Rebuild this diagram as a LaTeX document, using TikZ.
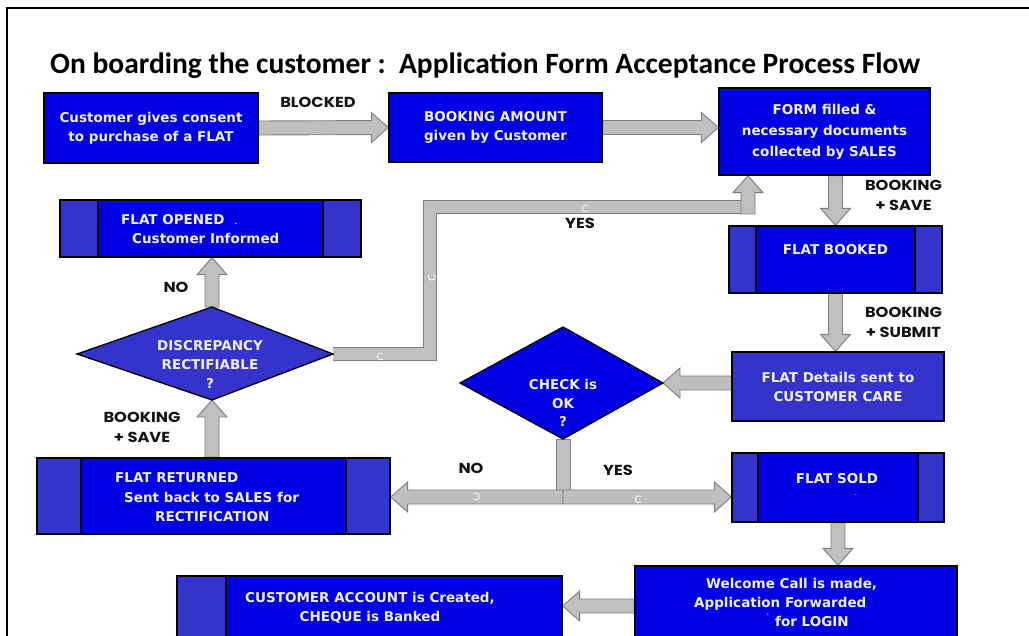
\documentclass[tikz,border=0pt]{standalone}
\usepackage{fontspec}
\setmainfont{DejaVu Sans}
\newfontfamily\boxfont{DejaVu Sans}
\newfontfamily\lblfont{Poppins}[FakeStretch=1.12]
\newfontfamily\titlefont{Carlito}
\usetikzlibrary{calc,backgrounds}

\definecolor{boxblue}{RGB}{0,0,228}
\definecolor{sideblue}{RGB}{52,52,204}
\definecolor{arrowfill}{RGB}{191,191,191}
\definecolor{arrowedge}{RGB}{125,125,125}
\definecolor{boxtext}{RGB}{240,240,255}
\definecolor{labelink}{RGB}{20,20,20}

\newcommand\boxtextfont{\boxfont\bfseries\fontsize{13.5}{19}\selectfont}
\newcommand\shaftw{7pt}
\newcommand\headw{15pt}
\newcommand\headl{17pt}

% straight block arrow from #1 to #2 (gray body, darker outline)
\newcommand\blockarrow[2]{%
  \filldraw[blockarrow] let \p1=#1, \p2=#2,
      \n1={atan2(\y2-\y1,\x2-\x1)}, \n2={veclen(\x2-\x1,\y2-\y1)} in
    [shift={(\p1)}, rotate=\n1]
    (0pt,\shaftw) -- ({\n2*1pt-\headl},\shaftw) -- ({\n2*1pt-\headl},\headw) -- ({\n2*1pt},0pt)
    -- ({\n2*1pt-\headl},-\headw) -- ({\n2*1pt-\headl},-\shaftw) -- (0pt,-\shaftw) -- cycle;}
% straight block bar without a head
\newcommand\blockbar[2]{%
  \filldraw[blockarrow] let \p1=#1, \p2=#2,
      \n1={atan2(\y2-\y1,\x2-\x1)}, \n2={veclen(\x2-\x1,\y2-\y1)} in
    [shift={(\p1)}, rotate=\n1]
    (0pt,\shaftw) -- ({\n2*1pt},\shaftw) -- ({\n2*1pt},-\shaftw) -- (0pt,-\shaftw) -- cycle;}

\tikzset{
  procbox/.style={draw=black, line width=1.3pt, fill=boxblue, inner sep=0pt,
    align=center, text=boxtext, font=\boxtextfont},
  lpanel/.style={path picture={
    \fill[sideblue] (path picture bounding box.south west) rectangle ([xshift=#1]path picture bounding box.north west);
    \draw[black, line width=1.3pt] ([xshift=#1]path picture bounding box.south west) -- ([xshift=#1]path picture bounding box.north west);}},
  panels/.style={path picture={
    \fill[sideblue] (path picture bounding box.south west) rectangle ([xshift=#1]path picture bounding box.north west);
    \fill[sideblue] (path picture bounding box.south east) rectangle ([xshift=-#1]path picture bounding box.north east);
    \draw[black, line width=1.3pt] ([xshift=#1]path picture bounding box.south west) -- ([xshift=#1]path picture bounding box.north west)
      ([xshift=-#1]path picture bounding box.south east) -- ([xshift=-#1]path picture bounding box.north east);}},
  diam/.style={draw=black, line width=1.3pt},
  boxtxt/.style={text=boxtext, font=\boxtextfont, inner sep=0pt},
  lbl/.style={text=labelink, font=\lblfont\bfseries\fontsize{14.5}{20}\selectfont, inner sep=0pt, align=center},
  cmark/.style={text=white, font=\boxfont\fontsize{10}{10}\selectfont, inner sep=0pt},
  blockarrow/.style={fill=arrowfill, draw=arrowedge, line width=0.9pt, line join=miter},
}

\begin{document}
\begin{tikzpicture}[x=1pt,y=-1pt]
\useasboundingbox (0,0) rectangle (1029,636);

% title
\node[anchor=base west, inner sep=0pt, font=\titlefont\bfseries\fontsize{29.5}{34}\selectfont] (title) at (50,73.5)
  {On boarding the customer :\ \ Application Form Acceptance Process Flow};

% process boxes
\node[procbox, minimum width=214pt, minimum height=70pt] (cust) at (151,128) {Customer gives consent\\to purchase of a FLAT};
\node[procbox, minimum width=213pt, minimum height=69pt] (book) at (495.5,127.5) {BOOKING AMOUNT\\given by Customer};
\node[procbox, minimum width=211pt, minimum height=87pt, font=\boxtextfont\fontsize{13.5}{21}\selectfont] (form) at (824.5,131.5)
  {FORM filled \&\\necessary documents\\collected by SALES};
\node[procbox, panels=38pt, minimum width=301pt, minimum height=57pt] (opened) at (210.5,228.5) {};
\node[procbox, panels=27pt, minimum width=213pt, minimum height=67pt] (booked) at (835.5,259.5) {};
\node[procbox, fill=sideblue, minimum width=212pt, minimum height=69pt] (details) at (838,386.5) {FLAT Details sent to\\CUSTOMER CARE};
\node[procbox, panels=44pt, minimum width=353pt, minimum height=76pt] (returned) at (213.5,496) {};
\node[procbox, panels=26pt, minimum width=212pt, minimum height=69pt] (sold) at (838,487.5) {};
\node[procbox, minimum width=322pt, minimum height=94pt] (welcome) at (796,613) {};
\node[procbox, lpanel=49pt, minimum width=385pt, minimum height=84pt] (acct) at (369.5,618) {};

% texts of the panelled boxes
\node[boxtxt, anchor=west, align=left] (opened-t) at (121,229)
  {FLAT OPENED\hspace{10pt}{\fontsize{7}{7}\selectfont.}\\\hspace*{11pt}Customer Informed};
\node[boxtxt] (booked-t) at (835.5,250) {FLAT BOOKED};
\node[boxtxt] (sold-t) at (837,479) {FLAT SOLD};
\node[boxtxt, font=\boxfont\fontsize{7}{7}\selectfont] (sold-dot) at (856,495) {.};
\node[boxtxt, anchor=west, align=left, font=\boxtextfont\fontsize{13.5}{19.5}\selectfont] (returned-t) at (115,497.5)
  {FLAT RETURNED\\\hspace*{9pt}Sent back to SALES for\\\hspace*{40pt}RECTIFICATION};
\node[boxtxt, anchor=west, align=left] (welcome-t) at (694,602)
  {\hspace*{12pt}Welcome Call is made,\\Application Forwarded\\\hspace*{81pt}for LOGIN};
\node[boxtxt, font=\boxfont\fontsize{8}{8}\selectfont] (welcome-tick) at (768,617) {'};
\node[boxtxt, align=center] (acct-t) at (370,607.5) {CUSTOMER ACCOUNT is Created,\\CHEQUE is Banked};

% decision diamonds
\coordinate (check-w) at (460,383);
\coordinate (check-n) at (563,327);
\coordinate (check-e) at (663,383);
\coordinate (check-s) at (563,439);
\filldraw[diam, fill=boxblue] (check-w) -- (check-n) -- (check-e) -- (check-s) -- cycle;
\node[boxtxt, align=center, font=\boxtextfont\fontsize{13.5}{18.5}\selectfont] (check) at (563,403) {CHECK is\\OK\\?};

\coordinate (disc-w) at (77,354);
\coordinate (disc-n) at (212,307);
\coordinate (disc-e) at (333,354);
\coordinate (disc-s) at (212,400);
\filldraw[diam, fill=sideblue] (disc-w) -- (disc-n) -- (disc-e) -- (disc-s) -- cycle;
\node[boxtxt, align=center] (disc) at (210,364) {DISCREPANCY\\RECTIFIABLE\\?};

% connector labels
\node[lbl] (l-blocked) at (318,102) {BLOCKED};
\node[lbl] (l-save1) at (903.5,195.5) {BOOKING\\+ SAVE};
\node[lbl] (l-submit) at (903.5,322) {BOOKING\\+ SUBMIT};
\node[lbl] (l-yes1) at (580,223) {YES};
\node[lbl] (l-no1) at (176,287) {NO};
\node[lbl] (l-save2) at (142,427) {BOOKING\\+ SAVE};
\node[lbl] (l-no2) at (471,468) {NO};
\node[lbl] (l-yes2) at (618,470) {YES};

\coordinate (j) at (563,497);
\coordinate (yesturn) at (748,207);

\begin{pgfonlayer}{background}
  % page frame
  \draw[line width=2pt] (7,640) -- (7,8) -- (1032,8);

  % connectors
  \blockarrow{(cust.east)}{(book.west)}
  \blockarrow{(book.east)}{(book.east -| form.west)}
  \blockarrow{(form.south -| booked.north)}{(booked.north)}
  \blockarrow{(booked.south)}{(booked.south |- details.north)}
  \blockarrow{(details.west |- check-e)}{(check-e)}
  \blockbar{(check-s)}{([yshift=7pt]j)}
  \blockarrow{(j)}{(j -| returned.east)}
  \blockarrow{(j)}{(j -| sold.west)}
  \blockarrow{(sold.south)}{(sold.south |- welcome.north)}
  \blockarrow{([yshift=7pt]welcome.west)}{([yshift=7pt]welcome.west -| acct.east)}
  \blockarrow{(disc-s |- returned.north)}{(disc-s)}
  \blockarrow{(disc-n)}{(disc-n |- opened.south)}

  % YES return path to the form
  \draw[arrowedge, line width=14pt, line join=miter] (disc-e) -- ++(97,0) |- ([xshift=7pt]yesturn);
  \draw[arrowfill, line width=12.2pt, line join=miter] (disc-e) -- ++(97,0) |- ([xshift=7pt]yesturn);
  \blockarrow{([yshift=-7pt]yesturn)}{(yesturn |- form.south)}

  % stray marks on the connectors
  \node[cmark] at (585,209) {C};
  \node[cmark, rotate=90] at (432,278) {C};
  \node[cmark] at (380,357) {C};
  \node[cmark, xscale=-1] at (477,497) {C};
  \node[cmark] at (638,500) {C};
\end{pgfonlayer}
\end{tikzpicture}
\end{document}
